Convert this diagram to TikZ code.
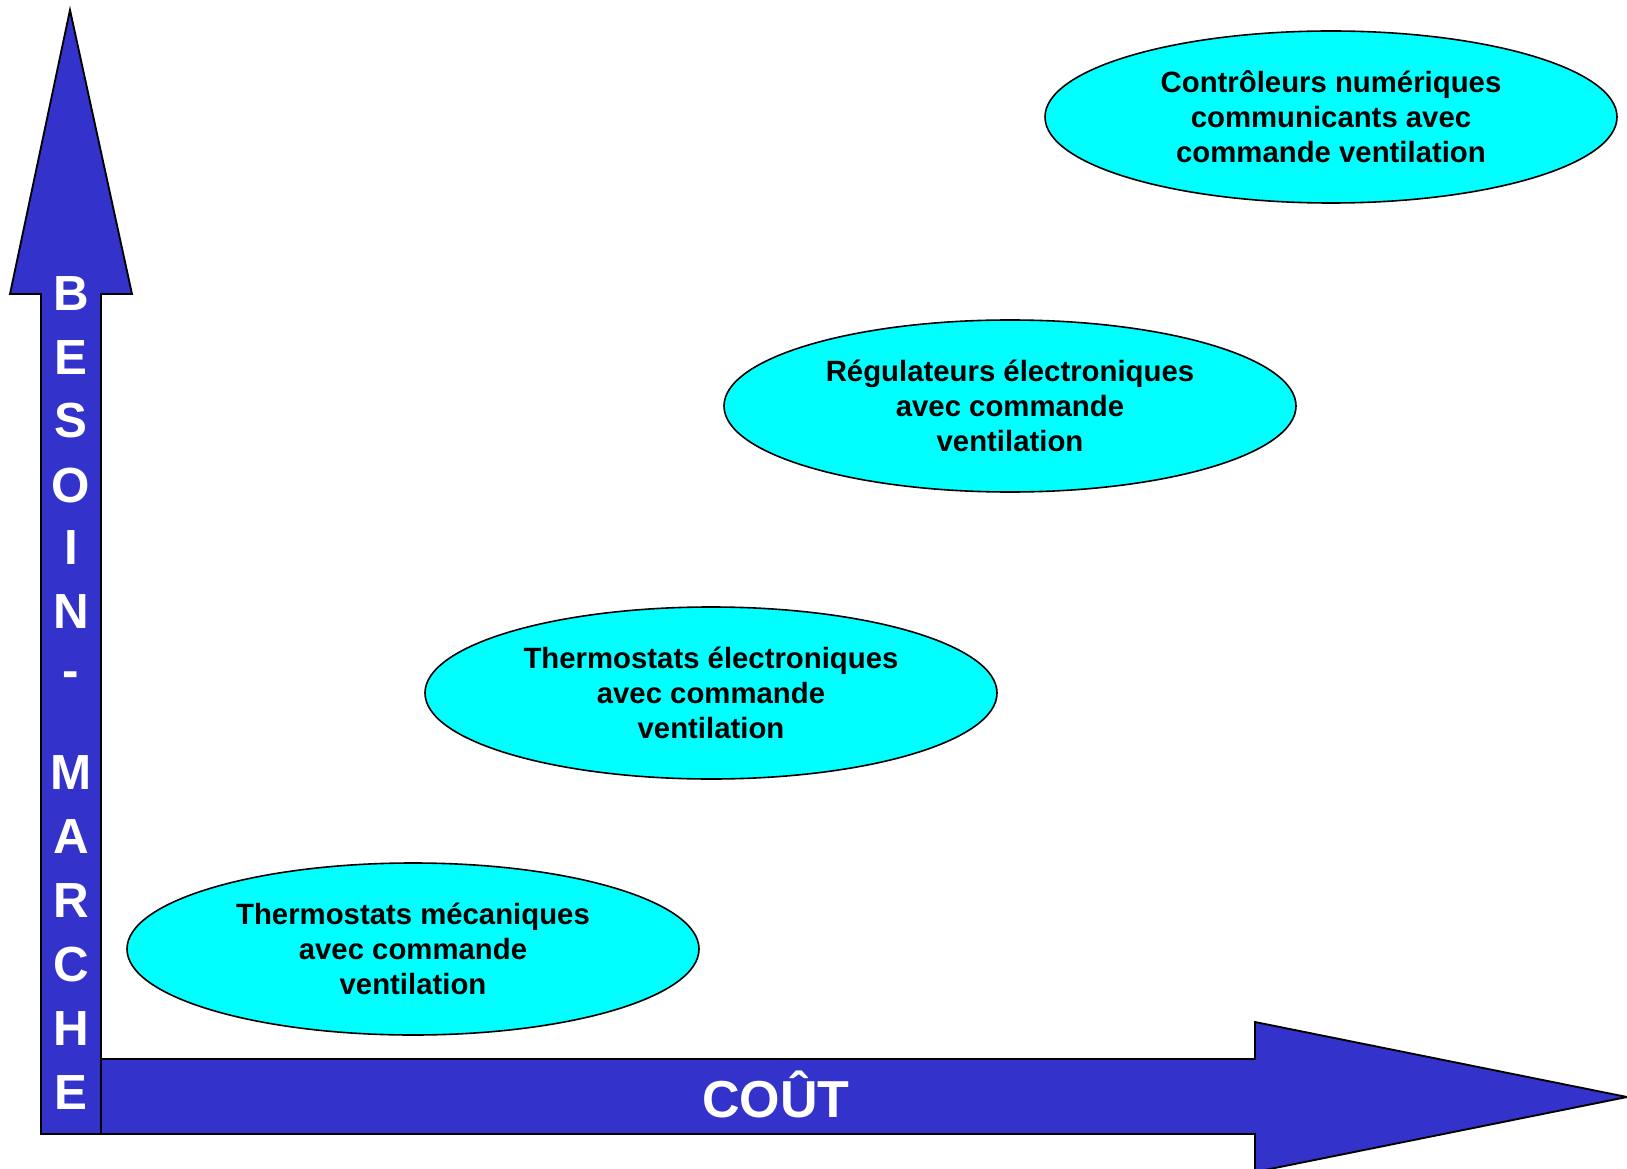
\documentclass[tikz,border=0pt]{standalone}
\usepackage{fontspec}
\setmainfont{Liberation Sans}
\usetikzlibrary{shapes.geometric}
\definecolor{arrowblue}{HTML}{3333CC}
\definecolor{bubble}{HTML}{00FFFF}
\tikzset{
  bigarrow/.style={fill=arrowblue, draw=black, line width=1.4pt, line join=miter},
  bubblenode/.style={ellipse, fill=bubble, draw=black, line width=1.2pt,
    minimum width=572*0.75pt, minimum height=172*0.75pt, inner sep=0pt,
    align=center, font=\bfseries\fontsize{22}{26.25}\selectfont},
  axisletter/.style={text=white, font=\bfseries\fontsize{37}{40}\selectfont, inner sep=0pt},
}
\begin{document}
\begin{tikzpicture}[x=0.75pt,y=-0.75pt]
\useasboundingbox (0,0) rectangle (1627,1169);
% vertical arrow
\draw[bigarrow] (41,1134) -- (41,294) -- (10,294) -- (70,10) -- (132,294) -- (101,294) -- (101,1134) -- cycle;
% horizontal arrow
\draw[bigarrow] (101,1059) -- (1255,1059) -- (1255,1022) -- (1627,1097) -- (1255,1172) -- (1255,1134) -- (101,1134) -- cycle;
% vertical label letters
\foreach \ch/\yy [count=\i] in {B/294,E/358,S/421,O/486,I/548,N/612,-/680,M/773,A/837,R/901,C/965,H/1029,E/1093}
  \node[axisletter] (v\i) at (71,\yy) {\ch};
\node[text=white, font=\bfseries\fontsize{39}{40}\selectfont, inner sep=0pt] (cout) at (776,1094) {COÛT};
% ellipses
\node[bubblenode] (e1) at (413,949) {Thermostats mécaniques\\avec commande\\ventilation};
\node[bubblenode] (e2) at (711,693) {Thermostats électroniques\\avec commande\\ventilation};
\node[bubblenode] (e3) at (1010,406) {Régulateurs électroniques\\avec commande\\ventilation};
\node[bubblenode] (e4) at (1331,117) {Contrôleurs numériques\\communicants avec\\commande ventilation};
\end{tikzpicture}
\end{document}
